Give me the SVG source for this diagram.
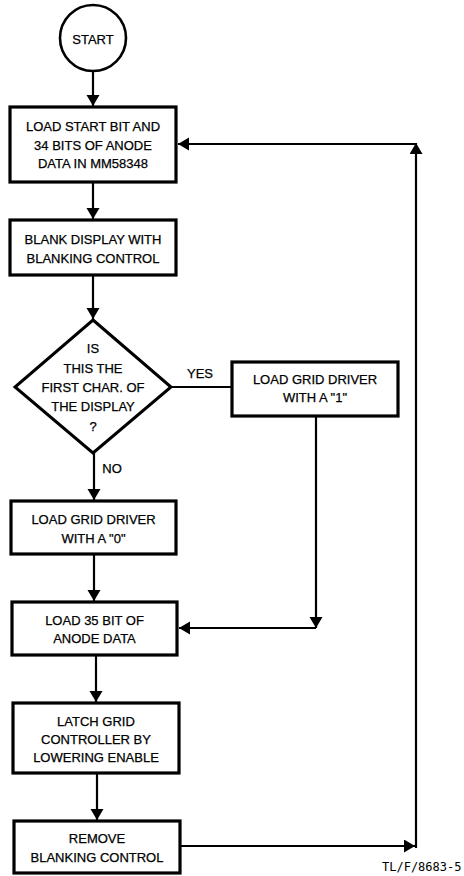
<svg xmlns="http://www.w3.org/2000/svg" width="464" height="876" viewBox="0 0 464 876">
<defs>
<marker id="ah" markerUnits="userSpaceOnUse" markerWidth="12" markerHeight="14" refX="11" refY="6.5" orient="auto">
<path d="M0,0 L11,6.5 L0,13 z" fill="#000"/>
</marker>
<style>
.box{fill:#fff;stroke:#000;stroke-width:3.2}
.t{font-family:"Liberation Sans",Arial,sans-serif;font-size:13px;fill:#000;stroke:#000;stroke-width:0.25;text-anchor:middle}
.c{fill:none;stroke:#000;stroke-width:2.2}
.ca{fill:none;stroke:#000;stroke-width:2.2;marker-end:url(#ah)}
</style>
</defs>
<rect width="464" height="876" fill="#fff"/>
<g id="connectors">
<path class="ca" d="M93,72 L93,106"/>
<path class="ca" d="M93,182 L93,219"/>
<path class="ca" d="M93,275 L93,319"/>
<path class="c" d="M171,387 L232,387"/>
<path class="ca" d="M94,453 L94,500"/>
<path class="ca" d="M94,554 L94,601"/>
<path class="ca" d="M316,416 L316,628"/>
<path class="ca" d="M316,628 L179,628"/>
<path class="ca" d="M96,655 L96,702"/>
<path class="ca" d="M97,773 L97,820"/>
<path class="ca" d="M180,846 L415,846"/>
<path class="ca" d="M416,848 L416,143"/>
<path class="ca" d="M416,144 L178,144"/>
</g>
<g id="start">
<circle cx="93" cy="38" r="33" fill="#fff" stroke="#000" stroke-width="2.6"/>
<text class="t" x="93" y="43.5">START</text>
</g>
<g id="load-start">
<rect class="box" x="10" y="107" width="166" height="75"/>
<text class="t" x="93" y="131">LOAD START BIT AND</text>
<text class="t" x="93" y="150">34 BITS OF ANODE</text>
<text class="t" x="93" y="168">DATA IN MM58348</text>
</g>
<g id="blank">
<rect class="box" x="10" y="220" width="166" height="55"/>
<text class="t" x="93" y="244">BLANK DISPLAY WITH</text>
<text class="t" x="93" y="263">BLANKING CONTROL</text>
</g>
<g id="decision">
<polygon points="93,320 171,387 93,453 15,387" fill="#fff" stroke="#000" stroke-width="3"/>
<text class="t" x="93" y="353">IS</text>
<text class="t" x="93" y="373">THIS THE</text>
<text class="t" x="93" y="392">FIRST CHAR. OF</text>
<text class="t" x="93" y="411">THE DISPLAY</text>
<text class="t" x="93" y="431">?</text>
</g>
<g id="labels">
<text class="t" x="200" y="378">YES</text>
<text class="t" x="112" y="473">NO</text>
</g>
<g id="grid1">
<rect class="box" x="232" y="362" width="166" height="54"/>
<text class="t" x="315" y="384">LOAD GRID DRIVER</text>
<text class="t" x="315" y="402">WITH A "1"</text>
</g>
<g id="grid0">
<rect class="box" x="11" y="501" width="165" height="53"/>
<text class="t" x="93.5" y="524">LOAD GRID DRIVER</text>
<text class="t" x="93.5" y="543">WITH A "0"</text>
</g>
<g id="load35">
<rect class="box" x="12" y="602" width="165" height="53"/>
<text class="t" x="94.5" y="625">LOAD 35 BIT OF</text>
<text class="t" x="94.5" y="643">ANODE DATA</text>
</g>
<g id="latch">
<rect class="box" x="13" y="703" width="166" height="70"/>
<text class="t" x="96" y="726">LATCH GRID</text>
<text class="t" x="96" y="744">CONTROLLER BY</text>
<text class="t" x="96" y="762">LOWERING ENABLE</text>
</g>
<g id="remove">
<rect class="box" x="14" y="821" width="166" height="52"/>
<text class="t" x="97" y="843">REMOVE</text>
<text class="t" x="97" y="862">BLANKING CONTROL</text>
</g>
<text x="382" y="871" font-family="'DejaVu Sans Mono',monospace" font-size="12" fill="#000">TL/F/8683-5</text>
</svg>
